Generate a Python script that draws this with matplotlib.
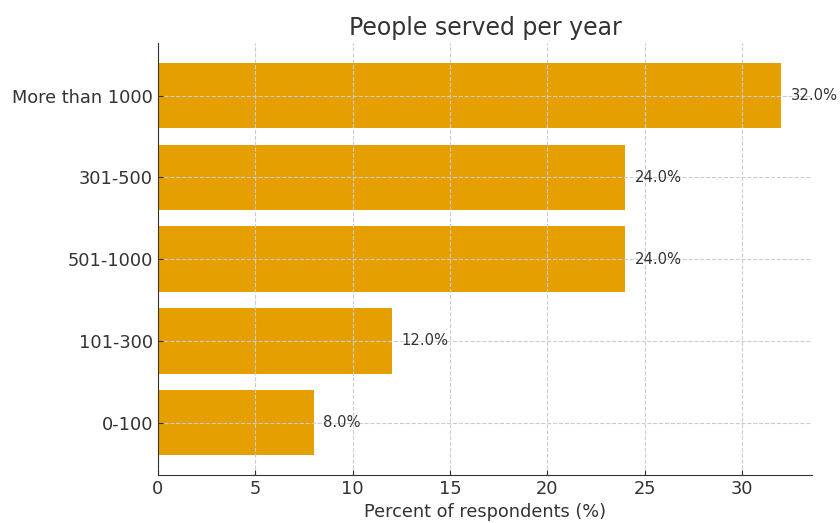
import matplotlib.pyplot as plt

# Respondents grouped by how many people they serve each year
categories = ["0-100", "101-300", "501-1000", "301-500", "More than 1000"]
percents = [8.0, 12.0, 24.0, 24.0, 32.0]

bar_color = "#E69F00"
text_color = "#333333"

fig, ax = plt.subplots(figsize=(8.4, 5.23), dpi=100)
fig.subplots_adjust(left=0.188, right=0.967, top=0.917, bottom=0.092)

bars = ax.barh(categories, percents, height=0.8, color=bar_color)

# value labels to the right of each bar
for bar, val in zip(bars, percents):
    ax.text(val + 0.5, bar.get_y() + bar.get_height() / 2, f"{val:.1f}%",
            va="center", ha="left", fontsize=10.6, color=text_color)

ax.set_title("People served per year", fontsize=17, color=text_color)
ax.set_xlabel("Percent of respondents (%)", fontsize=12.8, color=text_color)

ax.grid(True, linestyle="--", color="#cccccc", linewidth=0.8)
ax.spines["top"].set_visible(False)
ax.spines["right"].set_visible(False)
for side in ["left", "bottom"]:
    ax.spines[side].set_color(text_color)
ax.tick_params(direction="in", labelsize=12.8, colors=text_color)

plt.savefig("out.png", dpi=100)
